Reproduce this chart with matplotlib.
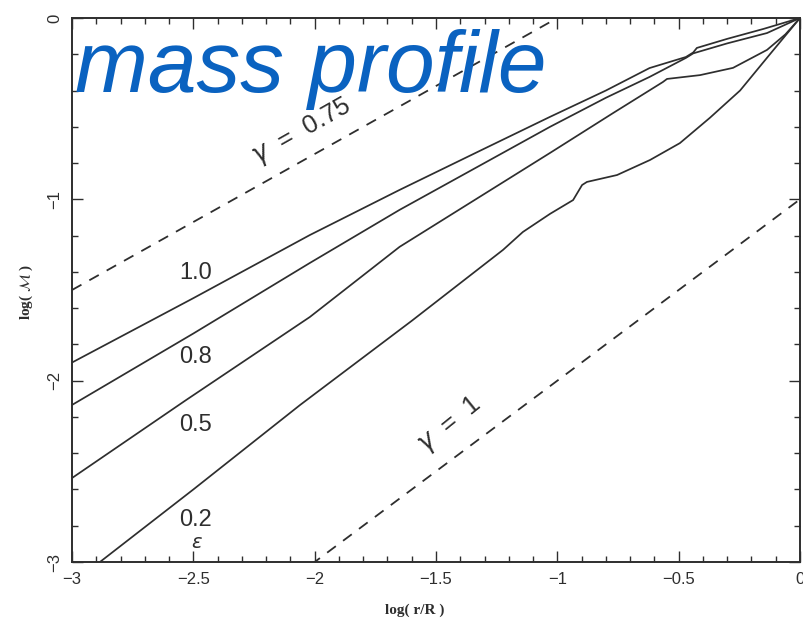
import matplotlib
matplotlib.use("Agg")
import matplotlib.pyplot as plt
from matplotlib.ticker import MultipleLocator

# Cumulative mass profiles log(M) vs log(r/R) for several epsilon values
x_e10 = [-3.0, -2.5, -2.02, -1.65, -1.3, -1.03, -0.8, -0.62, -0.47, -0.44, -0.425, -0.3, -0.15, 0.0]
y_e10 = [-1.90, -1.545, -1.197, -0.948, -0.72, -0.545, -0.40, -0.276, -0.215, -0.19, -0.165, -0.115, -0.06, 0.0]

x_e08 = [-3.0, -2.5, -2.02, -1.65, -1.03, -0.8, -0.62, -0.47, -0.44, -0.3, -0.136, 0.0]
y_e08 = [-2.134, -1.74, -1.351, -1.058, -0.60, -0.44, -0.325, -0.22, -0.195, -0.14, -0.083, 0.0]

x_e05 = [-3.0, -2.53, -2.02, -1.65, -1.03, -0.77, -0.565, -0.548, -0.412, -0.276, -0.136, -0.06, 0.0]
y_e05 = [-2.537, -2.107, -1.649, -1.262, -0.744, -0.524, -0.353, -0.336, -0.315, -0.275, -0.176, -0.09, 0.0]

x_e02 = [-2.885, -2.5, -2.06, -1.6, -1.224, -1.142, -1.03, -0.935, -0.898, -0.878,
         -0.754, -0.618, -0.495, -0.371, -0.247, -0.124, 0.0]
y_e02 = [-3.0, -2.60, -2.134, -1.67, -1.279, -1.18, -1.08, -1.004, -0.921, -0.904,
         -0.866, -0.783, -0.69, -0.55, -0.40, -0.20, 0.0]

curves = [(x_e10, y_e10, "1.0"), (x_e08, y_e08, "0.8"),
          (x_e05, y_e05, "0.5"), (x_e02, y_e02, "0.2")]
curve_label_y = [-1.406, -1.870, -2.245, -2.768]

# Reference power laws: log M = gamma * log r + c
gamma_slopes = [0.75, 1.0]
gamma_offsets = [0.75, -1.0]
gamma_x = [-3.0, 0.0]

ink = "#2e2e2e"

fig = plt.figure(figsize=(8.04, 6.23), dpi=100)
ax = fig.add_axes([72 / 804, 61 / 623, 728 / 804, 544 / 623])

for xs, ys, _ in curves:
    ax.plot(xs, ys, color=ink, lw=1.25, solid_joinstyle="round")

for g, c in zip(gamma_slopes, gamma_offsets):
    ax.plot(gamma_x, [g * v + c for v in gamma_x], color=ink, lw=1.3,
            linestyle=(0, (6, 5)))

for (_, _, lab), ly in zip(curves, curve_label_y):
    ax.text(-2.49, ly, lab, fontsize=17, family="Liberation Sans",
            color=ink, ha="center", va="center")
ax.text(-2.485, -2.895, r"$\epsilon$", fontsize=14, color=ink,
        ha="center", va="center")

ax.text(-2.052, -0.629, "$\\gamma$  =  0.75", fontsize=18.5, color=ink,
        family="Liberation Sans", rotation=29.5, ha="center", va="center",
        rotation_mode="anchor")
ax.text(-1.442, -2.245, "$\\gamma$  =  1", fontsize=18.5, color=ink,
        family="Liberation Sans", rotation=39, ha="center", va="center",
        rotation_mode="anchor")

ax.set_xlim(-3, 0)
ax.set_ylim(-3, 0)
ax.xaxis.set_major_locator(MultipleLocator(0.5))
ax.xaxis.set_minor_locator(MultipleLocator(0.1))
ax.yaxis.set_major_locator(MultipleLocator(1))
ax.yaxis.set_minor_locator(MultipleLocator(0.2))
ax.set_xticks([-3, -2.5, -2, -1.5, -1, -0.5, 0])
ax.set_xticklabels(["\u22123", "\u22122.5", "\u22122", "\u22121.5", "\u22121", "\u22120.5", "0"])
ax.set_yticks([-3, -2, -1, 0])
ax.set_yticklabels(["\u22123", "\u22122", "\u22121", "0"])

ax.tick_params(which="both", direction="in", top=True, right=True,
               color=ink, width=1.0)
ax.tick_params(which="major", length=8)
ax.tick_params(which="minor", length=4)
ax.tick_params(axis="x", labelsize=12, pad=7, labelcolor=ink)
ax.tick_params(axis="y", labelsize=12, pad=7, labelcolor=ink, labelrotation=90)
for lbl in ax.get_xticklabels() + ax.get_yticklabels():
    lbl.set_family("Liberation Sans")
for lbl in ax.get_yticklabels():
    lbl.set_va("center")

for s in ax.spines.values():
    s.set_linewidth(1.4)
    s.set_color(ink)

fig.text(415 / 804, 1 - 610 / 623, "log( r/R )", fontsize=11,
         family="Liberation Serif", weight="bold", color=ink,
         ha="center", va="center")
fig.text(26 / 804, 1 - 292 / 623, r"log( $\mathcal{M}$ )", fontsize=11,
         family="Liberation Serif", weight="bold", color=ink,
         ha="center", va="center", rotation=90)

fig.text(75 / 804, 1 - 92 / 623, "mass profile", fontsize=63,
         family="Liberation Sans", style="italic", color="#0a62c0",
         ha="left", va="baseline")

fig.savefig("out.png", dpi=100)
